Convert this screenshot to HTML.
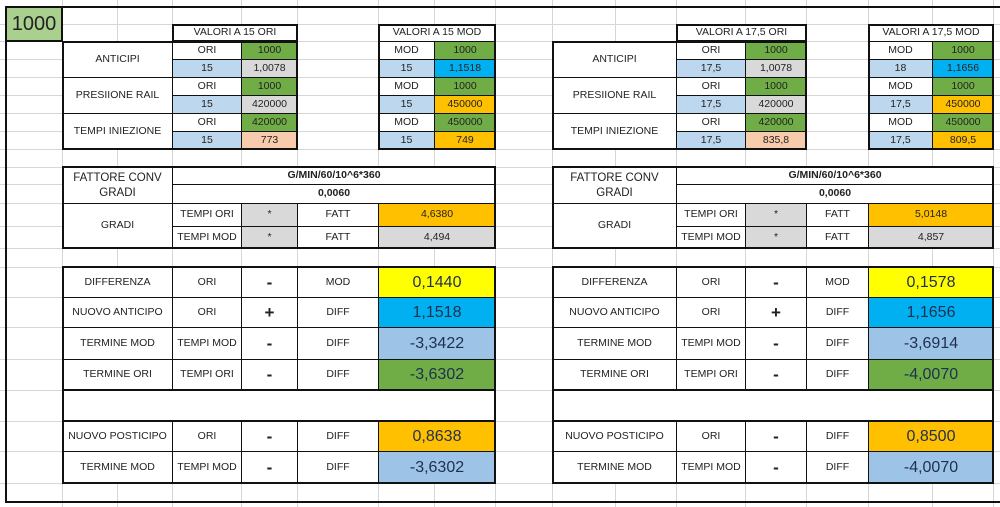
<!DOCTYPE html>
<html><head><meta charset="utf-8"><style>
body{margin:0;width:1000px;height:507px;background:#fff;position:relative;overflow:hidden;font-family:"Liberation Sans",sans-serif;}
.c{position:absolute;box-sizing:border-box;border:1px solid #111;display:flex;align-items:center;justify-content:center;font-size:10.5px;color:#222;background:#fff;text-align:center;line-height:1.25}
.w{background:#fff}.g{background:#70ad47}.lb{background:#bdd7ee}.gr{background:#d9d9d9}.bl{background:#00b0f0}.o{background:#ffc000}.p{background:#f8cbad}.y{background:#ffff00}.vb{background:#9dc3e6}
.big{font-size:16px;color:#1f2f4f}
.b{font-weight:bold}
.box{position:absolute;box-sizing:border-box;border:2px solid #111;pointer-events:none}
.sym{font-size:17px;font-weight:bold}
</style></head><body>
<svg style="position:absolute;left:0;top:0" width="1000" height="507">
<g stroke="#d6d6d6" stroke-width="1">
<line x1="0" x2="1000" y1="24.5" y2="24.5"/><line x1="0" x2="1000" y1="41.5" y2="41.5"/><line x1="0" x2="1000" y1="59.5" y2="59.5"/><line x1="0" x2="1000" y1="77.5" y2="77.5"/><line x1="0" x2="1000" y1="95.5" y2="95.5"/><line x1="0" x2="1000" y1="113.5" y2="113.5"/><line x1="0" x2="1000" y1="131.5" y2="131.5"/><line x1="0" x2="1000" y1="149.5" y2="149.5"/><line x1="0" x2="1000" y1="167.5" y2="167.5"/><line x1="0" x2="1000" y1="184.5" y2="184.5"/><line x1="0" x2="1000" y1="203.5" y2="203.5"/><line x1="0" x2="1000" y1="226.5" y2="226.5"/><line x1="0" x2="1000" y1="248.5" y2="248.5"/><line x1="0" x2="1000" y1="267.5" y2="267.5"/><line x1="0" x2="1000" y1="297.5" y2="297.5"/><line x1="0" x2="1000" y1="327.5" y2="327.5"/><line x1="0" x2="1000" y1="359.5" y2="359.5"/><line x1="0" x2="1000" y1="390.5" y2="390.5"/><line x1="0" x2="1000" y1="421.5" y2="421.5"/><line x1="0" x2="1000" y1="451.5" y2="451.5"/><line x1="0" x2="1000" y1="483.5" y2="483.5"/>
<line y1="0" y2="507" x1="62.5" x2="62.5"/><line y1="0" y2="507" x1="117.5" x2="117.5"/><line y1="0" y2="507" x1="172.5" x2="172.5"/><line y1="0" y2="507" x1="241.5" x2="241.5"/><line y1="0" y2="507" x1="297.5" x2="297.5"/><line y1="0" y2="507" x1="378.5" x2="378.5"/><line y1="0" y2="507" x1="434.5" x2="434.5"/><line y1="0" y2="507" x1="495.5" x2="495.5"/><line y1="0" y2="507" x1="552.5" x2="552.5"/><line y1="0" y2="507" x1="615.5" x2="615.5"/><line y1="0" y2="507" x1="676.5" x2="676.5"/><line y1="0" y2="507" x1="745.5" x2="745.5"/><line y1="0" y2="507" x1="806.5" x2="806.5"/><line y1="0" y2="507" x1="868.5" x2="868.5"/><line y1="0" y2="507" x1="932.5" x2="932.5"/><line y1="0" y2="507" x1="993.5" x2="993.5"/>
</g></svg>
<div class="box" style="left:5px;top:6px;width:1000px;height:497px"></div>
<div class="c" style="left:5px;top:6px;width:58px;height:36px;background:#a9d08e;font-size:20px;border-width:2px">1000</div>

<!-- LEFT top tables -->
<div class="c" style="left:172px;top:24px;width:126px;height:18px">VALORI A 15 ORI</div>
<div class="c" style="left:62px;top:41px;width:111px;height:37px">ANTICIPI</div>
<div class="c" style="left:62px;top:77px;width:111px;height:37px">PRESIIONE RAIL</div>
<div class="c" style="left:62px;top:113px;width:111px;height:37px">TEMPI INIEZIONE</div>
<div class="c" style="left:172px;top:41px;width:70px;height:19px">ORI</div><div class="c g" style="left:241px;top:41px;width:57px;height:19px">1000</div>
<div class="c lb" style="left:172px;top:59px;width:70px;height:19px">15</div><div class="c gr" style="left:241px;top:59px;width:57px;height:19px">1,0078</div>
<div class="c" style="left:172px;top:77px;width:70px;height:19px">ORI</div><div class="c g" style="left:241px;top:77px;width:57px;height:19px">1000</div>
<div class="c lb" style="left:172px;top:95px;width:70px;height:19px">15</div><div class="c gr" style="left:241px;top:95px;width:57px;height:19px">420000</div>
<div class="c" style="left:172px;top:113px;width:70px;height:19px">ORI</div><div class="c g" style="left:241px;top:113px;width:57px;height:19px">420000</div>
<div class="c lb" style="left:172px;top:131px;width:70px;height:19px">15</div><div class="c p" style="left:241px;top:131px;width:57px;height:19px">773</div>
<div class="box" style="left:62px;top:41px;width:236px;height:109px"></div>
<div class="box" style="left:172px;top:24px;width:126px;height:18px"></div>

<div class="c" style="left:378px;top:24px;width:118px;height:18px">VALORI A 15 MOD</div>
<div class="c" style="left:378px;top:41px;width:57px;height:19px">MOD</div><div class="c g" style="left:434px;top:41px;width:62px;height:19px">1000</div>
<div class="c lb" style="left:378px;top:59px;width:57px;height:19px">15</div><div class="c bl" style="left:434px;top:59px;width:62px;height:19px">1,1518</div>
<div class="c" style="left:378px;top:77px;width:57px;height:19px">MOD</div><div class="c g" style="left:434px;top:77px;width:62px;height:19px">1000</div>
<div class="c lb" style="left:378px;top:95px;width:57px;height:19px">15</div><div class="c o" style="left:434px;top:95px;width:62px;height:19px">450000</div>
<div class="c" style="left:378px;top:113px;width:57px;height:19px">MOD</div><div class="c g" style="left:434px;top:113px;width:62px;height:19px">450000</div>
<div class="c lb" style="left:378px;top:131px;width:57px;height:19px">15</div><div class="c o" style="left:434px;top:131px;width:62px;height:19px">749</div>
<div class="box" style="left:378px;top:24px;width:118px;height:126px"></div>

<!-- RIGHT top tables -->
<div class="c" style="left:676px;top:24px;width:131px;height:18px">VALORI A 17,5 ORI</div>
<div class="c" style="left:552px;top:41px;width:125px;height:37px">ANTICIPI</div>
<div class="c" style="left:552px;top:77px;width:125px;height:37px">PRESIIONE RAIL</div>
<div class="c" style="left:552px;top:113px;width:125px;height:37px">TEMPI INIEZIONE</div>
<div class="c" style="left:676px;top:41px;width:70px;height:19px">ORI</div><div class="c g" style="left:745px;top:41px;width:62px;height:19px">1000</div>
<div class="c lb" style="left:676px;top:59px;width:70px;height:19px">17,5</div><div class="c gr" style="left:745px;top:59px;width:62px;height:19px">1,0078</div>
<div class="c" style="left:676px;top:77px;width:70px;height:19px">ORI</div><div class="c g" style="left:745px;top:77px;width:62px;height:19px">1000</div>
<div class="c lb" style="left:676px;top:95px;width:70px;height:19px">17,5</div><div class="c gr" style="left:745px;top:95px;width:62px;height:19px">420000</div>
<div class="c" style="left:676px;top:113px;width:70px;height:19px">ORI</div><div class="c g" style="left:745px;top:113px;width:62px;height:19px">420000</div>
<div class="c lb" style="left:676px;top:131px;width:70px;height:19px">17,5</div><div class="c p" style="left:745px;top:131px;width:62px;height:19px">835,8</div>
<div class="box" style="left:552px;top:41px;width:255px;height:109px"></div>
<div class="box" style="left:676px;top:24px;width:131px;height:18px"></div>

<div class="c" style="left:868px;top:24px;width:126px;height:18px">VALORI A 17,5 MOD</div>
<div class="c" style="left:868px;top:41px;width:65px;height:19px">MOD</div><div class="c g" style="left:932px;top:41px;width:62px;height:19px">1000</div>
<div class="c lb" style="left:868px;top:59px;width:65px;height:19px">18</div><div class="c bl" style="left:932px;top:59px;width:62px;height:19px">1,1656</div>
<div class="c" style="left:868px;top:77px;width:65px;height:19px">MOD</div><div class="c g" style="left:932px;top:77px;width:62px;height:19px">1000</div>
<div class="c lb" style="left:868px;top:95px;width:65px;height:19px">17,5</div><div class="c o" style="left:932px;top:95px;width:62px;height:19px">450000</div>
<div class="c" style="left:868px;top:113px;width:65px;height:19px">MOD</div><div class="c g" style="left:932px;top:113px;width:62px;height:19px">450000</div>
<div class="c lb" style="left:868px;top:131px;width:65px;height:19px">17,5</div><div class="c o" style="left:932px;top:131px;width:62px;height:19px">809,5</div>
<div class="box" style="left:868px;top:24px;width:126px;height:126px"></div>

<!-- LEFT fattore -->
<div class="c" style="left:62px;top:167px;width:111px;height:37px;font-size:11.5px">FATTORE CONV<br>GRADI</div>
<div class="c b" style="left:172px;top:167px;width:324px;height:18px">G/MIN/60/10^6*360</div>
<div class="c b" style="left:172px;top:184px;width:324px;height:20px">0,0060</div>
<div class="c" style="left:62px;top:203px;width:111px;height:46px">GRADI</div>
<div class="c" style="left:172px;top:203px;width:70px;height:24px">TEMPI ORI</div><div class="c gr" style="left:241px;top:203px;width:57px;height:24px">*</div><div class="c" style="left:297px;top:203px;width:82px;height:24px">FATT</div><div class="c o" style="left:378px;top:203px;width:118px;height:24px">4,6380</div>
<div class="c" style="left:172px;top:226px;width:70px;height:23px">TEMPI MOD</div><div class="c gr" style="left:241px;top:226px;width:57px;height:23px">*</div><div class="c" style="left:297px;top:226px;width:82px;height:23px">FATT</div><div class="c gr" style="left:378px;top:226px;width:118px;height:23px">4,494</div>
<div class="box" style="left:62px;top:166px;width:434px;height:83px"></div>

<!-- RIGHT fattore -->
<div class="c" style="left:552px;top:167px;width:125px;height:37px;font-size:11.5px">FATTORE CONV<br>GRADI</div>
<div class="c b" style="left:676px;top:167px;width:318px;height:18px">G/MIN/60/10^6*360</div>
<div class="c b" style="left:676px;top:184px;width:318px;height:20px">0,0060</div>
<div class="c" style="left:552px;top:203px;width:125px;height:46px">GRADI</div>
<div class="c" style="left:676px;top:203px;width:70px;height:24px">TEMPI ORI</div><div class="c gr" style="left:745px;top:203px;width:62px;height:24px">*</div><div class="c" style="left:806px;top:203px;width:63px;height:24px">FATT</div><div class="c o" style="left:868px;top:203px;width:126px;height:24px">5,0148</div>
<div class="c" style="left:676px;top:226px;width:70px;height:23px">TEMPI MOD</div><div class="c gr" style="left:745px;top:226px;width:62px;height:23px">*</div><div class="c" style="left:806px;top:226px;width:63px;height:23px">FATT</div><div class="c gr" style="left:868px;top:226px;width:126px;height:23px">4,857</div>
<div class="box" style="left:552px;top:166px;width:442px;height:83px"></div>

<!-- LEFT lower -->
<div class="c" style="left:62px;top:267px;width:434px;height:217px"></div>
<div class="c" style="left:62px;top:267px;width:111px;height:31px">DIFFERENZA</div><div class="c" style="left:172px;top:267px;width:70px;height:31px">ORI</div><div class="c sym" style="left:241px;top:267px;width:57px;height:31px">-</div><div class="c" style="left:297px;top:267px;width:82px;height:31px">MOD</div><div class="c y big" style="left:378px;top:267px;width:118px;height:31px">0,1440</div>
<div class="c" style="left:62px;top:297px;width:111px;height:31px">NUOVO ANTICIPO</div><div class="c" style="left:172px;top:297px;width:70px;height:31px">ORI</div><div class="c sym" style="left:241px;top:297px;width:57px;height:31px">+</div><div class="c" style="left:297px;top:297px;width:82px;height:31px">DIFF</div><div class="c bl big" style="left:378px;top:297px;width:118px;height:31px">1,1518</div>
<div class="c" style="left:62px;top:327px;width:111px;height:33px">TERMINE MOD</div><div class="c" style="left:172px;top:327px;width:70px;height:33px">TEMPI MOD</div><div class="c sym" style="left:241px;top:327px;width:57px;height:33px">-</div><div class="c" style="left:297px;top:327px;width:82px;height:33px">DIFF</div><div class="c vb big" style="left:378px;top:327px;width:118px;height:33px">-3,3422</div>
<div class="c" style="left:62px;top:359px;width:111px;height:32px">TERMINE ORI</div><div class="c" style="left:172px;top:359px;width:70px;height:32px">TEMPI ORI</div><div class="c sym" style="left:241px;top:359px;width:57px;height:32px">-</div><div class="c" style="left:297px;top:359px;width:82px;height:32px">DIFF</div><div class="c g big" style="left:378px;top:359px;width:118px;height:32px">-3,6302</div>
<div class="c" style="left:62px;top:421px;width:111px;height:31px">NUOVO POSTICIPO</div><div class="c" style="left:172px;top:421px;width:70px;height:31px">ORI</div><div class="c sym" style="left:241px;top:421px;width:57px;height:31px">-</div><div class="c" style="left:297px;top:421px;width:82px;height:31px">DIFF</div><div class="c o big" style="left:378px;top:421px;width:118px;height:31px">0,8638</div>
<div class="c" style="left:62px;top:451px;width:111px;height:33px">TERMINE MOD</div><div class="c" style="left:172px;top:451px;width:70px;height:33px">TEMPI MOD</div><div class="c sym" style="left:241px;top:451px;width:57px;height:33px">-</div><div class="c" style="left:297px;top:451px;width:82px;height:33px">DIFF</div><div class="c vb big" style="left:378px;top:451px;width:118px;height:33px">-3,6302</div>
<div class="box" style="left:62px;top:266px;width:434px;height:125px"></div>
<div class="box" style="left:62px;top:389px;width:434px;height:33px"></div>
<div class="box" style="left:62px;top:420px;width:434px;height:64px"></div>

<!-- RIGHT lower -->
<div class="c" style="left:552px;top:267px;width:442px;height:217px"></div>
<div class="c" style="left:552px;top:267px;width:125px;height:31px">DIFFERENZA</div><div class="c" style="left:676px;top:267px;width:70px;height:31px">ORI</div><div class="c sym" style="left:745px;top:267px;width:62px;height:31px">-</div><div class="c" style="left:806px;top:267px;width:63px;height:31px">MOD</div><div class="c y big" style="left:868px;top:267px;width:126px;height:31px">0,1578</div>
<div class="c" style="left:552px;top:297px;width:125px;height:31px">NUOVO ANTICIPO</div><div class="c" style="left:676px;top:297px;width:70px;height:31px">ORI</div><div class="c sym" style="left:745px;top:297px;width:62px;height:31px">+</div><div class="c" style="left:806px;top:297px;width:63px;height:31px">DIFF</div><div class="c bl big" style="left:868px;top:297px;width:126px;height:31px">1,1656</div>
<div class="c" style="left:552px;top:327px;width:125px;height:33px">TERMINE MOD</div><div class="c" style="left:676px;top:327px;width:70px;height:33px">TEMPI MOD</div><div class="c sym" style="left:745px;top:327px;width:62px;height:33px">-</div><div class="c" style="left:806px;top:327px;width:63px;height:33px">DIFF</div><div class="c vb big" style="left:868px;top:327px;width:126px;height:33px">-3,6914</div>
<div class="c" style="left:552px;top:359px;width:125px;height:32px">TERMINE ORI</div><div class="c" style="left:676px;top:359px;width:70px;height:32px">TEMPI ORI</div><div class="c sym" style="left:745px;top:359px;width:62px;height:32px">-</div><div class="c" style="left:806px;top:359px;width:63px;height:32px">DIFF</div><div class="c g big" style="left:868px;top:359px;width:126px;height:32px">-4,0070</div>
<div class="c" style="left:552px;top:421px;width:125px;height:31px">NUOVO POSTICIPO</div><div class="c" style="left:676px;top:421px;width:70px;height:31px">ORI</div><div class="c sym" style="left:745px;top:421px;width:62px;height:31px">-</div><div class="c" style="left:806px;top:421px;width:63px;height:31px">DIFF</div><div class="c o big" style="left:868px;top:421px;width:126px;height:31px">0,8500</div>
<div class="c" style="left:552px;top:451px;width:125px;height:33px">TERMINE MOD</div><div class="c" style="left:676px;top:451px;width:70px;height:33px">TEMPI MOD</div><div class="c sym" style="left:745px;top:451px;width:62px;height:33px">-</div><div class="c" style="left:806px;top:451px;width:63px;height:33px">DIFF</div><div class="c vb big" style="left:868px;top:451px;width:126px;height:33px">-4,0070</div>
<div class="box" style="left:552px;top:266px;width:442px;height:125px"></div>
<div class="box" style="left:552px;top:389px;width:442px;height:33px"></div>
<div class="box" style="left:552px;top:420px;width:442px;height:64px"></div>
</body></html>
